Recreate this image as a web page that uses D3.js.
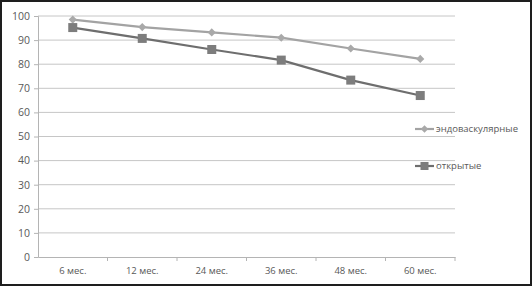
<!DOCTYPE html>
<html>
<head>
<meta charset="utf-8">
<script src="https://cdn.jsdelivr.net/npm/d3@7"></script>
<style>
  body { margin: 0; background: #fff; }
  svg { display: block; }
</style>
</head>
<body>
<div id="chart"></div>
<script>
// chart data
var categories = ["6 мес.", "12 мес.", "24 мес.", "36 мес.", "48 мес.", "60 мес."]
var endovascular = [98.5, 95.4, 93.2, 91, 86.5, 82.2]
var openSurgery = [95.2, 90.7, 86.1, 81.7, 73.4, 67]
var seriesNames = ["эндоваскулярные", "открытые"]
var yTicks = [0, 10, 20, 30, 40, 50, 60, 70, 80, 90, 100]

var W = 532, H = 286
var margin = {top: 16, right: 77, bottom: 29, left: 38}
var width = W - margin.left - margin.right
var height = H - margin.top - margin.bottom

var root = d3.select("#chart").append("svg")
  .attr("width", W)
  .attr("height", H)

// outer frame
root.append("rect")
  .attr("x", 1).attr("y", 1)
  .attr("width", W - 2).attr("height", H - 2)
  .attr("fill", "#fff")
  .attr("stroke", "#1e1e1e")
  .attr("stroke-width", 2)

var svg = root.append("g")
  .attr("transform", "translate(" + margin.left + "," + margin.top + ")")

var x = d3.scaleBand()
  .domain(categories)
  .range([0, width])

var y = d3.scaleLinear()
  .domain([0, 100])
  .range([height, 0])

// gridlines
svg.selectAll("line.grid")
  .data(yTicks.slice(1))
  .enter()
  .append("line")
    .attr("class", "grid")
    .attr("x1", 0)
    .attr("x2", width)
    .attr("y1", function(d){ return y(d) })
    .attr("y2", function(d){ return y(d) })
    .attr("stroke", "#c6c6c6")
    .attr("stroke-width", 1)

// Y axis
var yAxis = svg.append("g")
  .call(d3.axisLeft(y).tickValues(yTicks).tickSize(4).tickPadding(4))
yAxis.select(".domain").attr("stroke", "#b4b4b4")
yAxis.selectAll(".tick line").attr("stroke", "#b4b4b4")
yAxis.selectAll("text")
  .attr("fill", "#595959")
  .style("font-family", "Open Sans")
  .style("font-size", "10.5px")

// X axis, ticks between categories
var xAxis = svg.append("g")
  .attr("transform", "translate(0," + height + ")")
  .call(d3.axisBottom(x).tickSize(0).tickPadding(10))
xAxis.select(".domain").attr("stroke", "#b4b4b4")
xAxis.selectAll("text")
  .attr("fill", "#595959")
  .style("font-family", "Open Sans")
  .style("font-size", "9.5px")
svg.append("g")
  .selectAll("line")
  .data(categories)
  .enter()
  .append("line")
    .attr("x1", function(d){ return x(d) + x.bandwidth() })
    .attr("x2", function(d){ return x(d) + x.bandwidth() })
    .attr("y1", height)
    .attr("y2", height + 4)
    .attr("stroke", "#b4b4b4")

var cx = function(d, i){ return x(categories[i]) + x.bandwidth() / 2 }
var line = d3.line()
  .x(cx)
  .y(function(d){ return y(d) })

// endovascular series
svg.append("path")
  .datum(endovascular)
  .attr("fill", "none")
  .attr("stroke", "#a3a3a3")
  .attr("stroke-width", 2.2)
  .attr("d", line)
svg.selectAll("path.dia")
  .data(endovascular)
  .enter()
  .append("path")
    .attr("class", "dia")
    .attr("d", d3.symbol().type(d3.symbolDiamond2).size(42))
    .attr("transform", function(d, i){ return "translate(" + cx(d, i) + "," + y(d) + ")" })
    .attr("fill", "#a9a9a9")

// open surgery series
svg.append("path")
  .datum(openSurgery)
  .attr("fill", "none")
  .attr("stroke", "#6e6e6e")
  .attr("stroke-width", 2.2)
  .attr("d", line)
svg.selectAll("rect.sq")
  .data(openSurgery)
  .enter()
  .append("rect")
    .attr("class", "sq")
    .attr("x", function(d, i){ return cx(d, i) - 4.5 })
    .attr("y", function(d){ return y(d) - 4.5 })
    .attr("width", 9)
    .attr("height", 9)
    .attr("fill", "#7d7d7d")

// legend
var legend = root.append("g")
var legY = [129, 166]
var legColors = [["#a3a3a3", "#a9a9a9"], ["#6e6e6e", "#7d7d7d"]]
seriesNames.forEach(function(name, i){
  var g = legend.append("g").attr("transform", "translate(415," + legY[i] + ")")
  g.append("line")
    .attr("x1", 0).attr("x2", 19)
    .attr("stroke", legColors[i][0])
    .attr("stroke-width", 2.2)
  if (i == 0) {
    g.append("path")
      .attr("d", d3.symbol().type(d3.symbolDiamond2).size(36))
      .attr("transform", "translate(9.5,0)")
      .attr("fill", legColors[i][1])
  } else {
    g.append("rect")
      .attr("x", 5.5).attr("y", -4)
      .attr("width", 8).attr("height", 8)
      .attr("fill", legColors[i][1])
  }
  g.append("text")
    .attr("x", 21)
    .attr("y", 0)
    .attr("dy", "0.35em")
    .attr("fill", "#595959")
    .style("font-family", "Open Sans")
    .style("font-size", "9.5px")
    .text(name)
})
</script>
</body>
</html>
